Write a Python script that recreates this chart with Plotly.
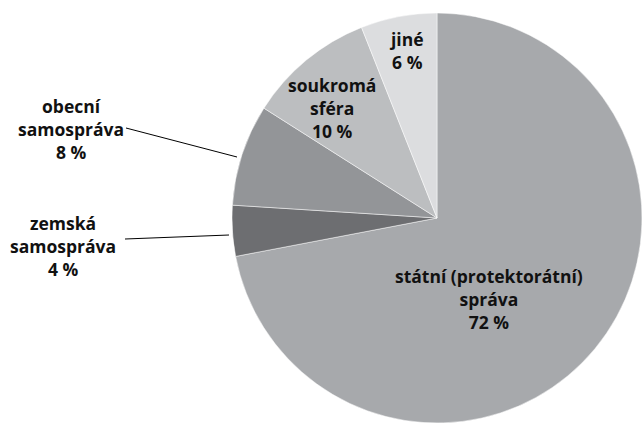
import plotly.graph_objects as go

labels = ["státní (protektorátní) správa", "zemská samospráva", "obecní samospráva", "soukromá sféra", "jiné"]
values = [72, 4, 8, 10, 6]
colors = ["#a7a9ac", "#6d6e71", "#939598", "#bcbec0", "#dcdddf"]
label_text = ["státní (protektorátní)<br>správa<br>72 %", "zemská<br>samospráva<br>4 %",
              "obecní<br>samospráva<br>8 %", "soukromá<br>sféra<br>10 %", "jiné<br>6 %"]

W, H = 642, 424

fig = go.Figure(go.Pie(
    labels=labels, values=values, sort=False, direction="clockwise", rotation=0,
    marker=dict(colors=colors, line=dict(color="#ffffff", width=0.5)),
    textinfo="none", hoverinfo="label+percent", showlegend=False,
    domain=dict(x=[232 / W, 1.0], y=[0.0, 412 / H]),
))

font = dict(family="Open Sans", size=17.5, color="#111111")
label_pos = [(489, 299), (63, 246), (71, 129), (332, 108), (406, 50)]
for txt, (x, y) in zip(label_text, label_pos):
    fig.add_annotation(x=x / W, y=1 - y / H, xref="paper", yref="paper", text="<b>" + txt + "</b>",
                       showarrow=False, font=font, align="center", xanchor="center", yanchor="middle")

leaders = [((126, 128), (237, 157)), ((125, 239), (229, 235))]
for (x0, y0), (x1, y1) in leaders:
    fig.add_shape(type="line", xref="paper", yref="paper", x0=x0 / W, y0=1 - y0 / H, x1=x1 / W, y1=1 - y1 / H,
                  line=dict(color="#000000", width=1))

fig.update_layout(width=W, height=H, margin=dict(l=0, r=0, t=0, b=0),
                  paper_bgcolor="#ffffff", plot_bgcolor="#ffffff")
fig.write_html("out.html", config={"displayModeBar": False},
               post_script="document.body.style.margin='0';document.body.style.overflow='hidden';")
